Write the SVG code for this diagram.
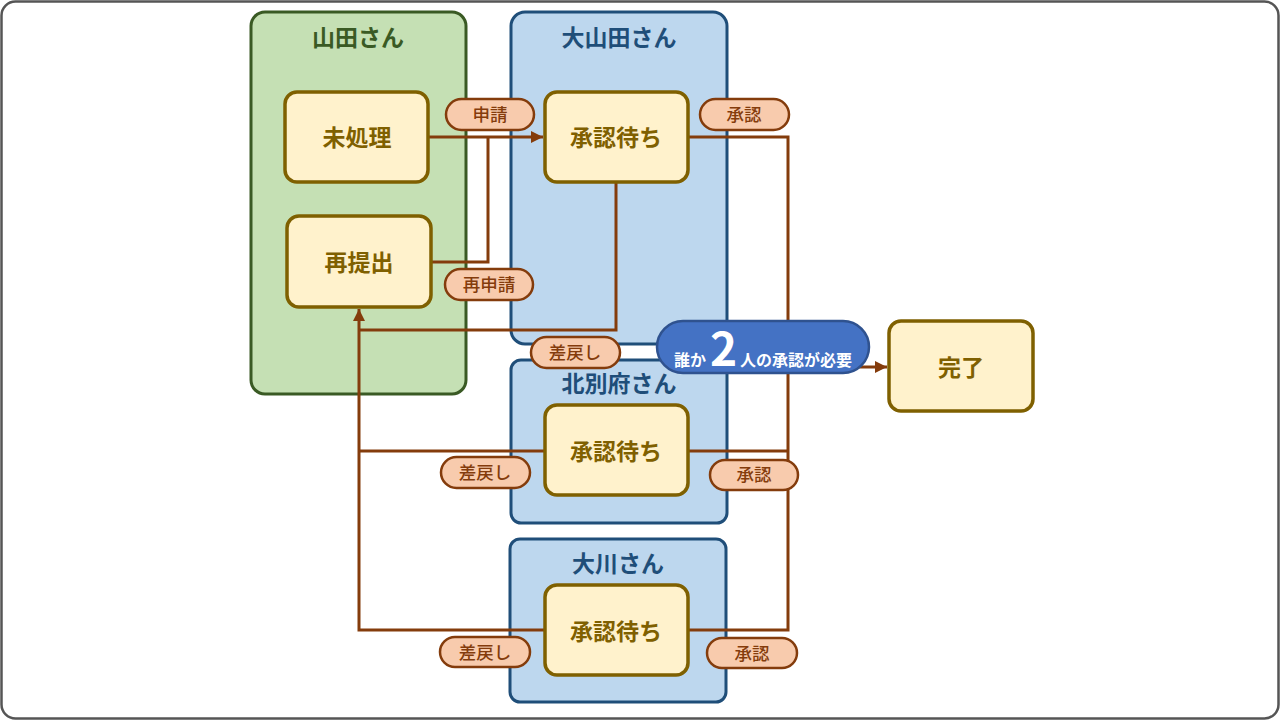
<svg xmlns="http://www.w3.org/2000/svg" width="1280" height="720" viewBox="0 0 1280 720">
<defs>
<marker id="arr" viewBox="0 0 10 10" refX="10" refY="5" markerWidth="4" markerHeight="4" markerUnits="strokeWidth" orient="auto">
<path d="M0,0 L10,5 L0,10 z" fill="#843c0c"/>
</marker>
<style>
.lane-g{fill:#c5e0b4;stroke:#3a5a24;stroke-width:3}
.lane-b{fill:#bdd7ee;stroke:#1f4e79;stroke-width:3}
.tg{font-family:"Noto Sans CJK JP","Noto Sans",sans-serif;font-size:23px;font-weight:bold;fill:#3a5a24;text-anchor:middle}
.tb{font-family:"Noto Sans CJK JP","Noto Sans",sans-serif;font-size:23px;font-weight:bold;fill:#1f4e79;text-anchor:middle}
.node{fill:#fff2cc;stroke:#7f6000;stroke-width:3.5}
.nt{font-family:"Noto Sans CJK JP","Noto Sans",sans-serif;font-size:23px;font-weight:bold;fill:#7f6000;text-anchor:middle}
.ln{fill:none;stroke:#843c0c;stroke-width:3}
.pill{fill:#f8cbad;stroke:#843c0c;stroke-width:2.5}
.pt{font-family:"Noto Sans CJK JP","Noto Sans",sans-serif;font-size:17.5px;font-weight:500;fill:#843c0c;text-anchor:middle}
.bt{font-family:"Noto Sans CJK JP","Noto Sans",sans-serif;font-weight:bold;fill:#ffffff}
</style>
</defs>
<rect x="1.5" y="1.5" width="1277" height="717" rx="14" fill="#ffffff" stroke="#555555" stroke-width="2.5"/>

<g id="lane-yamada"><rect class="lane-g" x="251" y="12" width="215" height="382" rx="14"/><text class="tg" x="358" y="46">山田さん</text></g>
<g id="lane-oyamada"><rect class="lane-b" x="511" y="12" width="216" height="332" rx="14"/><text class="tb" x="619" y="46">大山田さん</text></g>
<g id="lane-kitabeppu"><rect class="lane-b" x="511" y="360" width="216" height="163" rx="10"/><text class="tb" x="619" y="392">北別府さん</text></g>
<g id="lane-okawa"><rect class="lane-b" x="510" y="539" width="216" height="163" rx="10"/><text class="tb" x="618" y="572">大川さん</text></g>

<g id="connectors">
<path class="ln" d="M428,137 H543" marker-end="url(#arr)"/>
<path class="ln" d="M431,262 H488 V137"/>
<path class="ln" d="M688,137 H788 V630 H688"/>
<path class="ln" d="M688,451 H788"/>
<path class="ln" d="M788,367 H887" marker-end="url(#arr)"/>
<path class="ln" d="M616,182 V330 H359"/>
<path class="ln" d="M545,451 H359"/>
<path class="ln" d="M545,630 H359 V309" marker-end="url(#arr)"/>
</g>

<g id="n-mishori"><rect class="node" x="285" y="92" width="143" height="90" rx="12"/><text class="nt" x="357" y="146">未処理</text></g>
<g id="n-saiteishutsu"><rect class="node" x="287" y="216" width="144" height="91" rx="12"/><text class="nt" x="359" y="271">再提出</text></g>
<g id="n-shonin1"><rect class="node" x="545" y="92" width="143" height="90" rx="12"/><text class="nt" x="616" y="146">承認待ち</text></g>
<g id="n-shonin2"><rect class="node" x="545" y="405" width="143" height="90" rx="12"/><text class="nt" x="616" y="460">承認待ち</text></g>
<g id="n-shonin3"><rect class="node" x="545" y="585" width="143" height="90" rx="12"/><text class="nt" x="616" y="640">承認待ち</text></g>
<g id="n-kanryo"><rect class="node" x="889" y="321" width="144" height="90" rx="12"/><text class="nt" x="961" y="376">完了</text></g>

<g id="labels">
<rect class="pill" x="446" y="99" width="88" height="31" rx="15.5"/><text class="pt" x="490" y="121">申請</text>
<rect class="pill" x="700" y="99" width="89" height="31" rx="15.5"/><text class="pt" x="744" y="121">承認</text>
<rect class="pill" x="445" y="269" width="88" height="31" rx="15.5"/><text class="pt" x="489" y="291">再申請</text>
<rect class="pill" x="531" y="337" width="89" height="31" rx="15.5"/><text class="pt" x="575" y="359">差戻し</text>
<rect class="pill" x="441" y="457" width="89" height="31" rx="15.5"/><text class="pt" x="485" y="479">差戻し</text>
<rect class="pill" x="710" y="460" width="88" height="30" rx="15"/><text class="pt" x="754" y="481">承認</text>
<rect class="pill" x="440" y="637" width="90" height="30" rx="15"/><text class="pt" x="485" y="659">差戻し</text>
<rect class="pill" x="707" y="638" width="90" height="30" rx="15"/><text class="pt" x="752" y="660">承認</text>
</g>

<g id="badge">
<rect x="657" y="321" width="212" height="52" rx="26" fill="#4472c4" stroke="#2f528f" stroke-width="2.5"/>
<text class="bt" x="763" y="366" text-anchor="middle"><tspan font-size="16">誰か</tspan><tspan font-size="46" dx="4">2</tspan><tspan font-size="16" dx="3">人の承認が必要</tspan></text>
</g>
</svg>
